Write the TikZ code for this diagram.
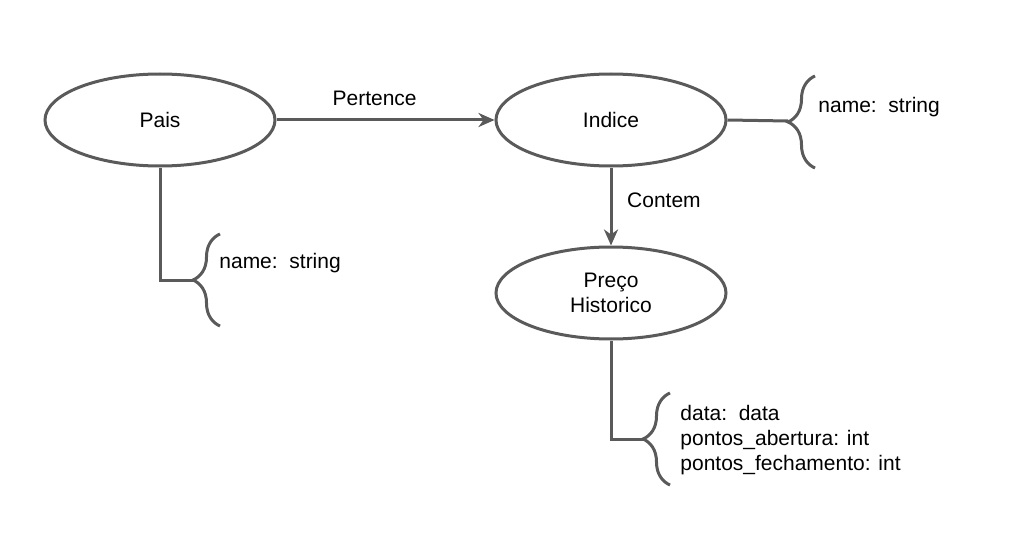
\documentclass[tikz,border=0pt]{standalone}
\usepackage{fontspec}
\setmainfont{Liberation Sans}
\usepackage{xcolor}
\usetikzlibrary{shapes,arrows.meta,positioning,calc,decorations.pathreplacing}
\definecolor{linegray}{HTML}{5A5A5A}

\begin{document}
\begin{tikzpicture}[
    x=0.5pt, y=-0.5pt,
    node distance=39pt,
    entity/.style={ellipse, draw=linegray, line width=1.5pt, minimum width=115pt, minimum height=46pt, inner sep=0pt, align=center, font=\fontsize{10.5}{12.5}\selectfont},
    relation/.style={-{Stealth[length=8pt,width=7pt,inset=2.5pt]}, draw=linegray, line width=1.5pt},
    link/.style={draw=linegray, line width=1.5pt},
    brc/.style={draw=linegray, line width=1.5pt, decorate, decoration={brace, amplitude=13.5pt, aspect=0.5}},
    attr/.style={anchor=west, align=left, inner sep=0pt, font=\fontsize{10.5}{12.5}\selectfont}
]
\useasboundingbox (0,0) rectangle (1012,535);

\node[entity] (pais) at (160,120) {Pais};
\node[entity, right=109pt of pais] (indice) {Indice};
\node[entity, below=of indice] (preco) {Preço\\Historico};

\draw[relation] (pais) -- node[above=3pt, pos=0.45, font=\fontsize{10.5}{12.5}\selectfont] {Pertence} (indice);
\draw[relation] (indice) -- node[right=4pt, pos=0.42, font=\fontsize{10.5}{12.5}\selectfont] {Contem} (preco);

% atributos
\coordinate (paisbr) at (193,280);
\coordinate (indicebr) at (788,121);
\coordinate (precobr) at (643,439);

\draw[link] (pais.south) |- (paisbr);
\draw[link] (indice.east) -- (indicebr);
\draw[link] (preco.south) |- (precobr);

\draw[brc] ($(paisbr)+(27,46)$) -- ($(paisbr)+(27,-46)$);
\draw[brc] ($(indicebr)+(27,47)$) -- ($(indicebr)+(27,-45)$);
\draw[brc] ($(precobr)+(27,46)$) -- ($(precobr)+(27,-46)$);

\node[attr] (paisat) at (219,263) {name:\ \ string};
\node[attr] (indiceat) at (818,107) {name:\ \ string};
\node[attr] (precoat) at (680,440) {data:\ \ data\\pontos\_abertura: int\\pontos\_fechamento: int};

\end{tikzpicture}
\end{document}
